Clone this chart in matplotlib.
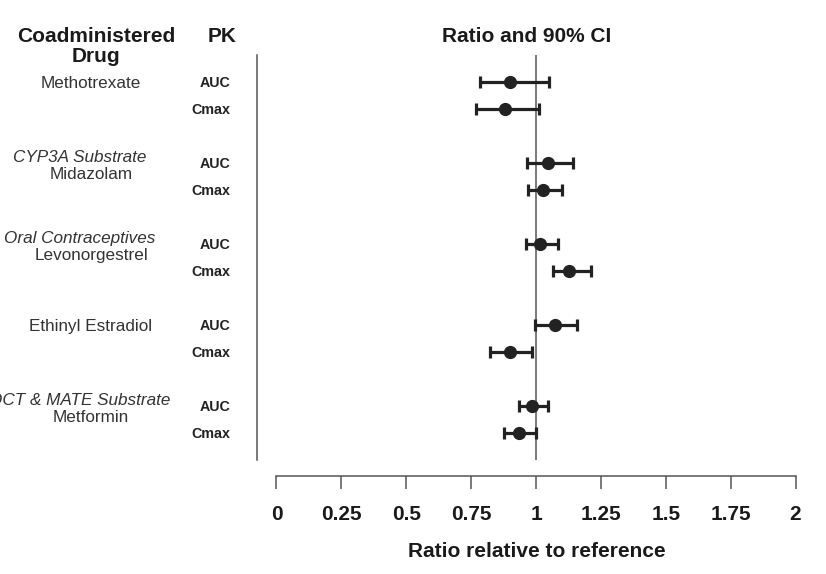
import matplotlib
matplotlib.use("Agg")
import matplotlib.pyplot as plt
import matplotlib.transforms as mtransforms
import numpy as np

plt.rcParams['font.family'] = ['Liberation Sans', 'DejaVu Sans']

# data
drugs = ["Methotrexate", "Midazolam", "Levonorgestrel", "Ethinyl Estradiol", "Metformin"]
drug_class = ["", "CYP3A Substrate", "Oral Contraceptives", "", "OCT & MATE Substrate"]
pk_params = ["AUC", "Cmax"]
ratio = [0.90, 0.88, 1.046, 1.027, 1.015, 1.127, 1.072, 0.90, 0.984, 0.934]
ci_low = [0.784, 0.767, 0.965, 0.969, 0.96, 1.066, 0.996, 0.823, 0.934, 0.876]
ci_high = [1.049, 1.01, 1.143, 1.10, 1.085, 1.211, 1.158, 0.986, 1.045, 0.999]
xticks = [0, 0.25, 0.5, 0.75, 1, 1.25, 1.5, 1.75, 2]
xtick_labels = ["0", "0.25", "0.5", "0.75", "1", "1.25", "1.5", "1.75", "2"]

W, H = 826, 574
fig = plt.figure(figsize=(W / 100, H / 100), dpi=100)

# axes box in pixels
ax_left, ax_right, ax_top, ax_bottom = 256.5, 816.3, 55, 460
ax = fig.add_axes([ax_left / W, 1 - ax_bottom / H, (ax_right - ax_left) / W, (ax_bottom - ax_top) / H])

rows = []
for g in range(len(drugs)):
    rows += [3 * g, 3 * g + 1]
rows = np.array(rows)
ratio = np.array(ratio)
err = np.vstack([ratio - np.array(ci_low), np.array(ci_high) - ratio])

ax.axvline(1, color="#555555", lw=1.1, zorder=1)
ax.errorbar(ratio, rows, xerr=err, fmt="o", color="#222222", ecolor="#222222",
            elinewidth=2.3, capsize=4, capthick=2.3, markersize=8.5, zorder=3)

ax.set_xlim(-0.077, 2.08)
ax.set_ylim(14, -1)

for s in ["top", "right"]:
    ax.spines[s].set_visible(False)
ax.spines["left"].set_color("#555555")
ax.spines["left"].set_linewidth(1.1)
ax.spines["bottom"].set_color("#555555")
ax.spines["bottom"].set_linewidth(1.1)
ax.spines["bottom"].set_position(("outward", 11.5))
ax.spines["bottom"].set_bounds(0, 2)

ax.set_yticks([])
ax.set_xticks(xticks)
ax.set_xticklabels(xtick_labels, fontsize=15, fontweight="bold", color="#1a1a1a")
ax.tick_params(axis="x", direction="out", length=9.4, width=1.1, color="#555555", pad=11.5)
ax.set_xlabel("Ratio relative to reference", fontsize=15, fontweight="bold", color="#1a1a1a", labelpad=13)

# text columns: x in figure pixels, y in data rows
trans = mtransforms.blended_transform_factory(fig.transFigure, ax.transData)
col_drug = 91 / W
col_class = 80 / W
col_pk = 230 / W
for g, name in enumerate(drugs):
    y0 = 3 * g
    if drug_class[g]:
        ax.text(col_class, y0 - 0.19, drug_class[g], transform=trans, ha="center", va="center",
                fontsize=12.3, style="italic", color="#333333", clip_on=False)
        ax.text(col_drug, y0 + 0.44, name, transform=trans, ha="center", va="center",
                fontsize=12.3, color="#333333", clip_on=False)
    else:
        ax.text(col_drug, y0 + 0.07, name, transform=trans, ha="center", va="center",
                fontsize=12.3, color="#333333", clip_on=False)
    for k, p in enumerate(pk_params):
        ax.text(col_pk, y0 + k + 0.05, p, transform=trans, ha="right", va="center",
                fontsize=10.3, fontweight="bold", color="#222222", clip_on=False)

# headers
hdr = dict(ha="center", va="center", fontsize=15, fontweight="bold", color="#1a1a1a")
fig.text(96 / W, 1 - 36 / H, "Coadministered", **hdr)
fig.text(96 / W, 1 - 57 / H, "Drug", **hdr)
fig.text(222 / W, 1 - 36 / H, "PK", **hdr)
fig.text(527 / W, 1 - 36 / H, "Ratio and 90% CI", **hdr)

fig.savefig("out.png", dpi=100)
